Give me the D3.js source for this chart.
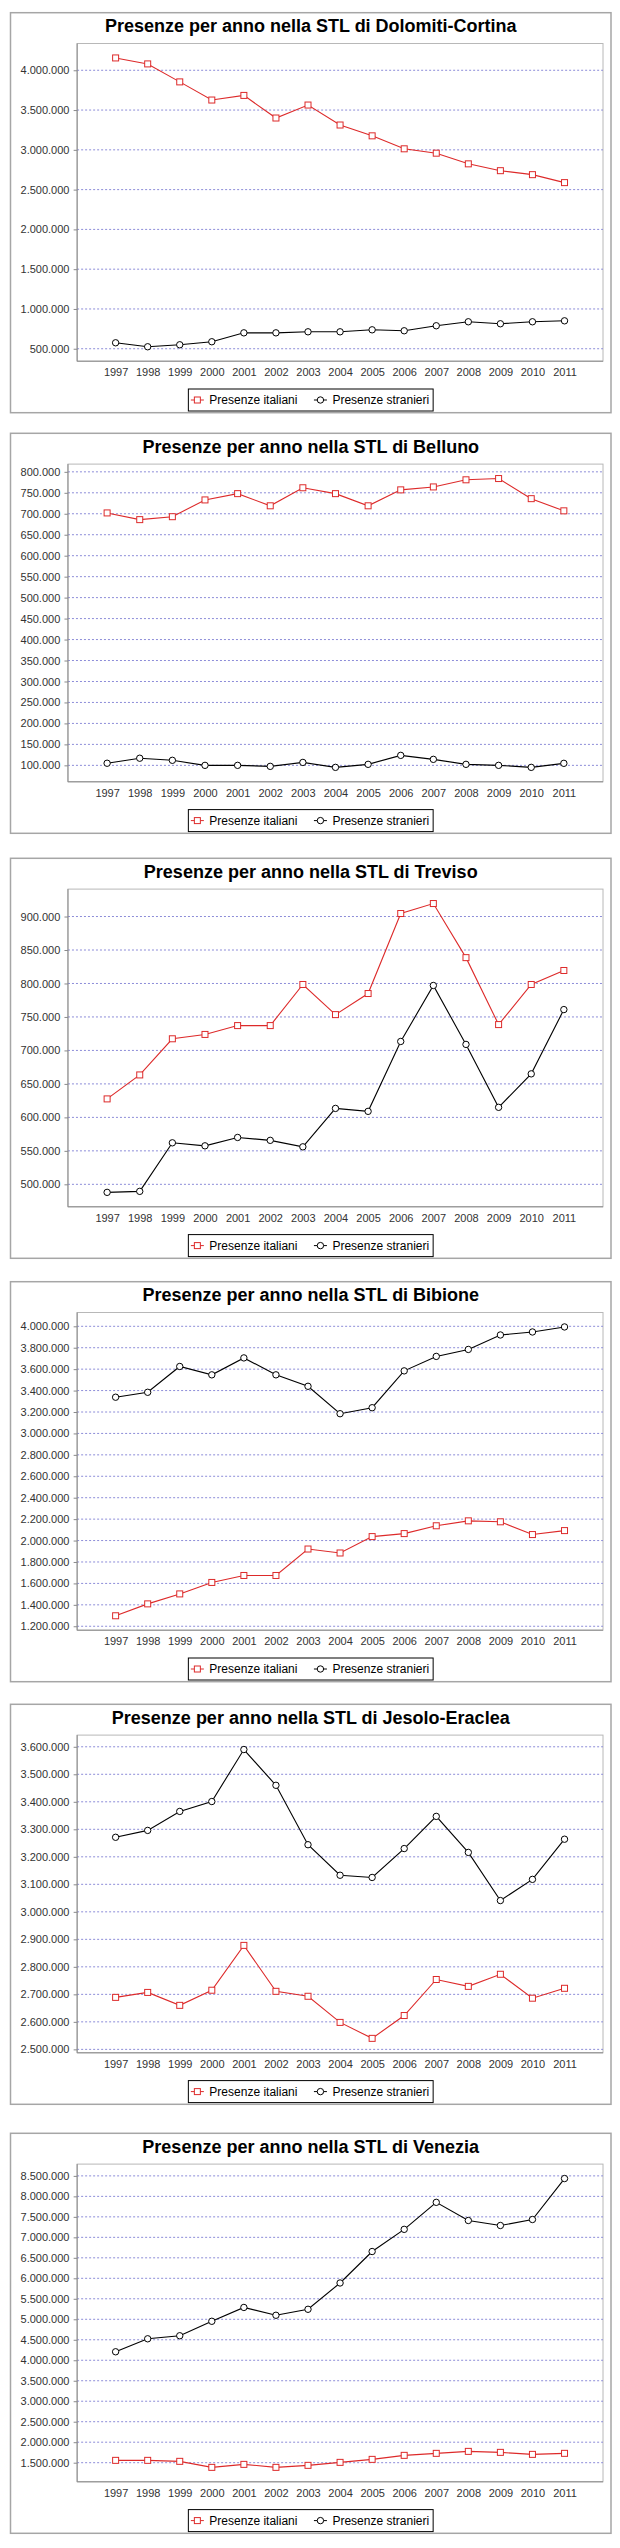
<!DOCTYPE html>
<html><head><meta charset="utf-8">
<script src="https://cdn.jsdelivr.net/npm/d3@7"></script>
<style>body{margin:0;background:#fff} svg{display:block}</style>
</head><body>
<svg id="c" width="620" height="2548"></svg>
<script>
// ---------- DATA ----------
const years = ["1997","1998","1999","2000","2001","2002","2003","2004","2005","2006","2007","2008","2009","2010","2011"];
const seriesNames = ["Presenze italiani", "Presenze stranieri"];
const titles = [
  "Presenze per anno nella STL di Dolomiti-Cortina",
  "Presenze per anno nella STL di Belluno",
  "Presenze per anno nella STL di Treviso",
  "Presenze per anno nella STL di Bibione",
  "Presenze per anno nella STL di Jesolo-Eraclea",
  "Presenze per anno nella STL di Venezia"
];
const itaCortina = [4155000,4080000,3854000,3626000,3684000,3400000,3563000,3312000,3176000,3013000,2958000,2824000,2738000,2688000,2588000];
const strCortina = [575000,525000,550000,588000,700000,700000,713000,713000,738000,726000,789000,839000,814000,839000,851000];
const itaBelluno = [702000,686000,693000,733000,748000,719000,762000,748000,719000,757000,764000,781000,784000,736000,707000];
const strBelluno = [105000,117000,112000,100000,100000,97600,107000,95200,102400,123800,114300,102400,100000,95200,104800];
const itaTreviso = [627600,663400,717400,723900,737100,737100,798500,753500,785000,904500,919400,838600,738600,798500,819400];
const strTreviso = [488000,489500,562000,557500,570000,565700,556000,613400,609000,713400,797000,709000,615000,665000,761000];
const itaBibione = [1298000,1409000,1502000,1609000,1674000,1674000,1921000,1884000,2037000,2065000,2138000,2184000,2175000,2056000,2093000];
const strBibione = [3338000,3384000,3625000,3547000,3705000,3547000,3440000,3184000,3240000,3584000,3719000,3784000,3919000,3947000,3994000];
const itaJesolo = [2689000,2707000,2660000,2715000,2878000,2711000,2693000,2598000,2540000,2623000,2754000,2729000,2773000,2686000,2722000];
const strJesolo = [3271000,3296000,3365000,3401000,3590000,3460000,3244000,3133000,3125000,3230000,3347000,3216000,3041000,3118000,3264000];
const itaVenezia = [1557000,1557000,1533000,1386000,1459000,1386000,1435000,1508000,1581000,1679000,1728000,1776000,1752000,1703000,1728000];
const strVenezia = [4207000,4524000,4598000,4951000,5289000,5098000,5244000,5886000,6654000,7195000,7854000,7411000,7289000,7435000,8435000];

const ticksCortina = [500000,1000000,1500000,2000000,2500000,3000000,3500000,4000000];
const ticksBelluno = [100000,150000,200000,250000,300000,350000,400000,450000,500000,550000,600000,650000,700000,750000,800000];
const ticksTreviso = [500000,550000,600000,650000,700000,750000,800000,850000,900000];
const ticksBibione = [1200000,1400000,1600000,1800000,2000000,2200000,2400000,2600000,2800000,3000000,3200000,3400000,3600000,3800000,4000000];
const ticksJesolo = [2500000,2600000,2700000,2800000,2900000,3000000,3100000,3200000,3300000,3400000,3500000,3600000];
const ticksVenezia = [1500000,2000000,2500000,3000000,3500000,4000000,4500000,5000000,5500000,6000000,6500000,7000000,7500000,8000000,8500000];

const panels = [
  {title: titles[0], ita: itaCortina, str: strCortina, ticks: ticksCortina},
  {title: titles[1], ita: itaBelluno, str: strBelluno, ticks: ticksBelluno},
  {title: titles[2], ita: itaTreviso, str: strTreviso, ticks: ticksTreviso},
  {title: titles[3], ita: itaBibione, str: strBibione, ticks: ticksBibione},
  {title: titles[4], ita: itaJesolo, str: strJesolo, ticks: ticksJesolo},
  {title: titles[5], ita: itaVenezia, str: strVenezia, ticks: ticksVenezia}
];

// ---------- LAYOUT ----------
const frameTops = [12.7, 433.3, 858.3, 1281.7, 1704.3, 2133.3];
const FL = 10.5, FR = 611, FH = 400;
const FONT = "'Liberation Sans', Arial, Helvetica, sans-serif";
const RED = "#dd2a2a", BLACK = "#000";
const GRID = "#8c8cd8";

const fmt = d3.formatLocale({decimal: ",", thousands: ".", grouping: [3], currency: ["", "€"]}).format(",d");
const svg = d3.select("#c");

function drawMarker(g, kind, cx, cy, color) {
  if (kind === "square") {
    g.append("rect").attr("x", cx - 3).attr("y", cy - 3).attr("width", 6).attr("height", 6)
      .attr("fill", "#fff").attr("stroke", color).attr("stroke-width", 1);
  } else {
    g.append("circle").attr("cx", cx).attr("cy", cy).attr("r", 3.2)
      .attr("fill", "#fff").attr("stroke", color).attr("stroke-width", 1);
  }
}

panels.forEach((p, i) => {
  const top = frameTops[i];
  const g = svg.append("g");
  g.append("rect").attr("x", FL).attr("y", top).attr("width", FR - FL).attr("height", FH)
    .attr("fill", "#fff").attr("stroke", "#a6a6a6").attr("stroke-width", 1.5);

  g.append("text").attr("x", (FL + FR) / 2).attr("y", top + 19.6)
    .attr("text-anchor", "middle").attr("font-family", FONT).attr("font-weight", "bold")
    .attr("font-size", 18).attr("fill", "#000").text(p.title);

  // measure tick labels
  const tmp = g.append("g").attr("font-family", FONT).attr("font-size", 11);
  let maxW = 0;
  p.ticks.forEach(t => {
    const tx = tmp.append("text").text(fmt(t));
    maxW = Math.max(maxW, tx.node().getComputedTextLength());
  });
  tmp.remove();

  const pl = FL + 10 + maxW + 7.7, pr = 603, pt = top + 30.8, pb = top + 348.5;
  const all = p.ita.concat(p.str);
  const [mn, mx] = d3.extent(all);
  const pad = (mx - mn) * 0.05;
  const y = d3.scaleLinear().domain([mn - pad, mx + pad]).range([pb, pt]);
  const x = d3.scalePoint().domain(years).range([pl, pr]).padding(1.2);

  // plot background & outline
  g.append("rect").attr("x", pl).attr("y", pt).attr("width", pr - pl).attr("height", pb - pt)
    .attr("fill", "#fff").attr("stroke", "#b8b8b8").attr("stroke-width", 1);

  // gridlines
  g.append("g").selectAll("line").data(p.ticks).join("line")
    .attr("x1", pl).attr("x2", pr).attr("y1", d => y(d)).attr("y2", d => y(d))
    .attr("stroke", GRID).attr("stroke-width", 1).attr("stroke-dasharray", "2,2");

  // y axis
  const ya = g.append("g").attr("transform", `translate(${pl},0)`)
    .call(d3.axisLeft(y).tickValues(p.ticks).tickFormat(fmt).tickSize(3.5).tickPadding(4.2));
  ya.select(".domain").remove();
  ya.selectAll(".tick line").attr("stroke", "#8a8a8a");
  ya.selectAll(".tick text").attr("font-family", FONT).attr("font-size", 11).attr("fill", "#333");

  // x axis
  const xa = g.append("g").attr("transform", `translate(0,${pb})`)
    .call(d3.axisBottom(x).tickSize(0).tickPadding(7.4));
  xa.select(".domain").remove();
  xa.selectAll(".tick text").attr("font-family", FONT).attr("font-size", 11).attr("fill", "#333");

  // axis lines
  g.append("line").attr("x1", pl).attr("x2", pl).attr("y1", pt).attr("y2", pb).attr("stroke", "#8a8a8a");
  g.append("line").attr("x1", pl).attr("x2", pr).attr("y1", pb).attr("y2", pb).attr("stroke", "#8a8a8a");

  // series
  const line = d3.line().x((d, k) => x(years[k])).y(d => y(d));
  const series = [
    {vals: p.ita, color: RED, kind: "square"},
    {vals: p.str, color: BLACK, kind: "circle"}
  ];
  series.forEach(s => {
    g.append("path").attr("d", line(s.vals)).attr("fill", "none")
      .attr("stroke", s.color).attr("stroke-width", 1.1);
  });
  series.forEach(s => {
    const mg = g.append("g");
    s.vals.forEach((v, k) => drawMarker(mg, s.kind, x(years[k]), y(v), s.color));
  });

  // legend
  const lg = g.append("g").attr("font-family", FONT).attr("font-size", 12);
  const widths = seriesNames.map(n => {
    const t = lg.append("text").text(n);
    const w = t.node().getComputedTextLength();
    t.remove();
    return w;
  });
  const lw = 2 + 19 + widths[0] + 16 + 19 + widths[1] + 4;
  const lx = (FL + FR) / 2 - lw / 2;
  const ly = top + 376.3, lh = 22, lc = ly + lh / 2;
  lg.append("rect").attr("x", lx).attr("y", ly).attr("width", lw).attr("height", lh)
    .attr("fill", "#fff").attr("stroke", "#000").attr("stroke-width", 1);
  let cx = lx + 2;
  series.forEach((s, k) => {
    const sc = cx + 7;
    lg.append("line").attr("x1", sc - 6.5).attr("x2", sc + 6.5).attr("y1", lc).attr("y2", lc)
      .attr("stroke", s.color).attr("stroke-width", 1);
    drawMarker(lg, s.kind, sc, lc, s.color);
    lg.append("text").attr("x", cx + 19).attr("y", lc + 4.3).attr("fill", "#000").text(seriesNames[k]);
    cx = cx + 19 + widths[k] + 16;
  });
});
</script>
</body></html>
